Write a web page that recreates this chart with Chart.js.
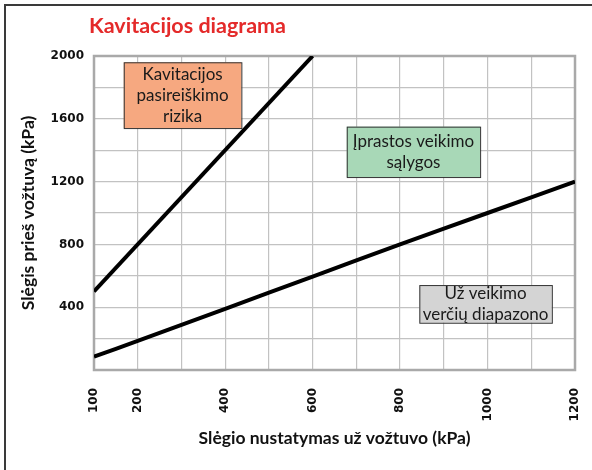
<!DOCTYPE html>
<html>
<head>
<meta charset="utf-8">
<script src="https://cdn.jsdelivr.net/npm/chart.js@4.4.1/dist/chart.umd.min.js"></script>
<style>
  html, body { margin: 0; padding: 0; background: #fff; }
  #wrap { width: 592px; height: 470px; }
</style>
</head>
<body>
<div id="wrap"><canvas id="kavitacija" width="592" height="470"></canvas></div>
<script>
// Duomenys
const pavadinimas = 'Kavitacijos diagrama';
const asisX = 'Slėgio nustatymas už vožtuvo (kPa)';
const asisY = 'Slėgis prieš vožtuvą (kPa)';

const xTinklas = [100, 200, 300, 400, 500, 600, 700, 800, 900, 1000, 1100, 1200];
const xZymes = [100, 200, 400, 600, 800, 1000, 1200];
const yZymes = [400, 800, 1200, 1600, 2000];

// Kavitacijos riba
const ribaX = [100, 600];
const ribaY = [500, 2000];
// Veikimo diapazono riba
const diapX = [100, 200, 400, 600, 800, 1000, 1200];
const diapY = [85, 185, 390, 595, 800, 1000, 1200];

const zonuTekstai = [
  ['Kavitacijos', 'pasireiškimo', 'rizika'],
  ['Įprastos veikimo', 'sąlygos'],
  ['Už veikimo', 'verčių diapazono']
];

// Zonų dėžutės (x1, x2, y1, y2 ašių vienetais)
const dezes = [
  { x1: 168, x2: 437, y1: 1960, y2: 1541, fill: '#f6a880' },
  { x1: 678, x2: 983, y1: 1550, y2: 1229, fill: '#a8d8b7' },
  { x1: 844, x2: 1147, y1: 541, y2: 301, fill: '#d4d4d4' }
];

const taskai = (xs, ys) => xs.map((x, i) => ({ x: x, y: ys[i] }));

const fonas = {
  id: 'fonas',
  beforeDraw(chart) {
    const ctx = chart.ctx;
    ctx.save();
    ctx.strokeStyle = '#3a3a3a';
    ctx.lineWidth = 2;
    ctx.beginPath();
    ctx.moveTo(5, 470);
    ctx.lineTo(5, 5);
    ctx.lineTo(592, 5);
    ctx.stroke();
    // pavadinimas
    ctx.fillStyle = '#e42a2a';
    ctx.font = 'bold 21.5px Lato';
    ctx.textBaseline = 'alphabetic';
    ctx.fillText(pavadinimas, 89, 33);
    ctx.restore();
  },
  beforeDatasetsDraw(chart) {
    const { ctx, chartArea: a, scales } = chart;
    ctx.save();
    ctx.strokeStyle = '#a9a9a9';
    ctx.lineWidth = 2.5;
    ctx.strokeRect(a.left, a.top, a.right - a.left, a.bottom - a.top);

    dezes.forEach((d, i) => {
      const l = scales.x.getPixelForValue(d.x1);
      const r = scales.x.getPixelForValue(d.x2);
      const t = scales.y.getPixelForValue(d.y1);
      const b = scales.y.getPixelForValue(d.y2);
      ctx.fillStyle = d.fill;
      ctx.fillRect(l, t, r - l, b - t);
      ctx.strokeStyle = '#333';
      ctx.lineWidth = 1;
      ctx.strokeRect(l + 0.5, t + 0.5, r - l, b - t);
      const eil = zonuTekstai[i];
      ctx.fillStyle = '#1a1a1a';
      ctx.font = '17px Lato';
      ctx.textAlign = 'center';
      ctx.textBaseline = 'middle';
      const tarpas = 21;
      const cy = (t + b) / 2 - (eil.length - 1) * tarpas / 2;
      eil.forEach((s, j) => ctx.fillText(s, (l + r) / 2, cy + j * tarpas));
    });
    ctx.restore();
  }
};

new Chart(document.getElementById('kavitacija'), {
  type: 'scatter',
  data: {
    datasets: [{
      data: taskai(ribaX, ribaY),
      showLine: true,
      borderColor: '#000',
      borderWidth: 4,
      pointRadius: 0
    }, {
      data: taskai(diapX, diapY),
      showLine: true,
      borderColor: '#000',
      borderWidth: 4,
      pointRadius: 0,
      tension: 0.2
    }]
  },
  options: {
    responsive: false,
    animation: false,
    layout: { padding: { top: 56, right: 17, bottom: 10, left: 14 } },
    plugins: {
      legend: { display: false },
      tooltip: { enabled: false }
    },
    scales: {
      x: {
        type: 'linear',
        min: 100,
        max: 1200,
        afterBuildTicks: (ax) => { ax.ticks = xTinklas.map(v => ({ value: v })); },
        afterFit: (ax) => { ax.height = 90; ax.paddingRight = 0; ax.paddingLeft = 0; },
        grid: { color: '#c2c2c2', lineWidth: 1.2, drawTicks: false },
        border: { display: false },
        ticks: {
          autoSkip: false,
          minRotation: 90,
          maxRotation: 90,
          padding: 18,
          color: '#111',
          font: { family: 'DejaVu Sans', weight: 'bold', size: 12 },
          callback: (v) => xZymes.includes(v) ? String(v) : ''
        },
        title: {
          display: true,
          text: asisX,
          color: '#111',
          font: { family: 'Lato', weight: 'bold', size: 17.5 },
          padding: { top: 0, bottom: 11 }
        }
      },
      y: {
        min: 0,
        max: 2000,
        afterFit: (ax) => { ax.width = 80; },
        grid: { color: '#c2c2c2', lineWidth: 1.2, drawTicks: false },
        border: { display: false },
        ticks: {
          stepSize: 200,
          padding: 10,
          color: '#111',
          font: { family: 'DejaVu Sans', weight: 'bold', size: 12 },
          callback: (v) => yZymes.includes(v) ? String(v) : ''
        },
        title: {
          display: true,
          text: asisY,
          color: '#111',
          font: { family: 'Lato', weight: 'bold', size: 17.5 },
          padding: { top: 4, bottom: 0 }
        }
      }
    }
  },
  plugins: [fonas]
});
</script>
</body>
</html>
